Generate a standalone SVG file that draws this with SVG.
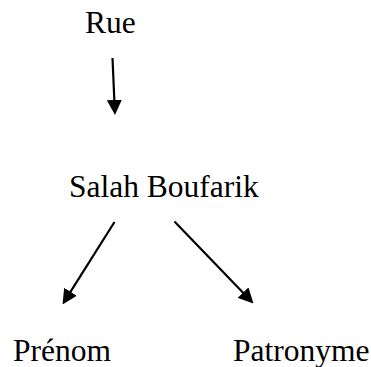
<svg xmlns="http://www.w3.org/2000/svg" width="371" height="367" viewBox="0 0 371 367">
  <style>
    .label { font-family: "Liberation Serif", "Times New Roman", serif; font-size: 31.5px; fill: #000; }
    .edge { stroke: #000; stroke-width: 2.2; fill: none; marker-end: url(#head); }
  </style>
  <defs>
    <marker id="head" markerUnits="userSpaceOnUse" markerWidth="15" markerHeight="15" viewBox="0 0 15 15" refX="7" refY="7.5" orient="auto">
      <path d="M0,0 L15,7.5 L0,15 Z" fill="#000"/>
    </marker>
  </defs>
  <rect width="371" height="367" fill="#fff"/>
  <g id="connectors">
    <line class="edge" x1="112.5" y1="58" x2="114.65" y2="107"/>
    <line class="edge" x1="114.5" y1="222" x2="66.8" y2="297.7"/>
    <line class="edge" x1="174.5" y1="221.5" x2="247.9" y2="297.7"/>
  </g>
  <g id="rue"><text class="label" x="85" y="33">Rue</text></g>
  <g id="salah-boufarik"><text class="label" x="69" y="197">Salah Boufarik</text></g>
  <g id="prenom"><text class="label" x="13" y="361">Prénom</text></g>
  <g id="patronyme"><text class="label" x="233" y="361">Patronyme</text></g>
</svg>
